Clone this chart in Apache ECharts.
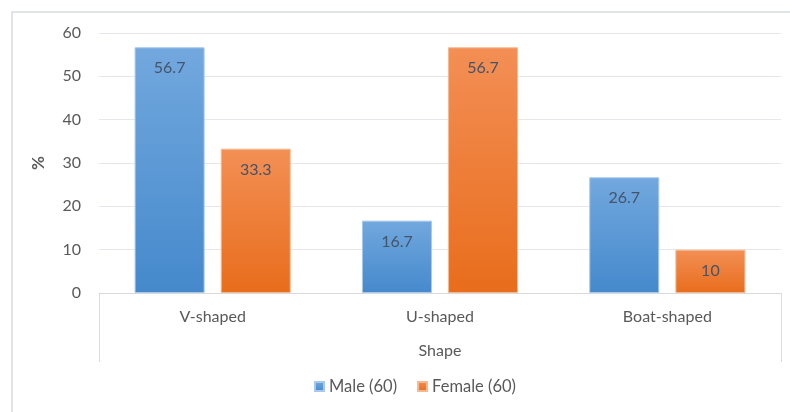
<!DOCTYPE html>
<html>
<head>
<meta charset="utf-8">
<script src="https://cdn.jsdelivr.net/npm/echarts@6/dist/echarts.min.js"></script>
<style>
html,body{margin:0;padding:0;background:#fff;}
#frame{position:absolute;left:11px;top:11px;width:820px;height:450px;border:2px solid #e1e4e8;box-sizing:border-box;}
#chart{position:absolute;left:0;top:0;width:790px;height:412px;}
</style>
</head>
<body>
<div id="frame"></div>
<div id="chart"></div>
<script>
const categories = ['V-shaped', 'U-shaped', 'Boat-shaped'];
const male = [56.7, 16.7, 26.7];
const female = [33.3, 56.7, 10];
const seriesNames = ['Male (60)', 'Female (60)'];
const yTicks = { min: 0, max: 60, interval: 10 };
const axisTitleX = 'Shape';
const axisTitleY = '%';

const FONT = 'Lato';
const chart = echarts.init(document.getElementById('chart'), null, { renderer: 'canvas' });

function grad(top, bottom) {
  return new echarts.graphic.LinearGradient(0, 0, 0, 1, [
    { offset: 0, color: top },
    { offset: 1, color: bottom }
  ]);
}

const labelCfg = {
  show: true,
  position: 'insideTop',
  distance: 13,
  color: '#44546a',
  fontSize: 16,
  fontFamily: FONT
};

chart.setOption({
  animation: false,
  textStyle: { fontFamily: FONT },
  grid: { left: 99, right: 9, top: 33, bottom: 119, containLabel: false },
  legend: {
    bottom: 12,
    left: 309,
    icon: 'rect',
    itemWidth: 9,
    itemHeight: 9,
    itemGap: 20,
    textStyle: { fontSize: 16.5, color: '#595959', fontFamily: FONT },
    data: seriesNames
  },
  xAxis: [
    {
      type: 'category',
      data: categories,
      axisLine: { show: true, lineStyle: { color: '#d9d9d9', width: 1 } },
      axisTick: { show: false },
      axisLabel: { fontSize: 16, color: '#595959', margin: 16, fontFamily: FONT }
    },
    {
      type: 'category',
      data: [axisTitleX],
      position: 'bottom',
      axisLine: { show: false },
      axisTick: { show: true, length: 69, lineStyle: { color: '#dcdcdc' } },
      axisLabel: { fontSize: 16, color: '#595959', margin: 50, fontFamily: FONT },
      splitLine: { show: false }
    }
  ],
  yAxis: {
    type: 'value',
    min: yTicks.min,
    max: yTicks.max,
    interval: yTicks.interval,
    name: axisTitleY,
    nameLocation: 'middle',
    nameGap: 52,
    nameRotate: 90,
    nameTextStyle: { fontSize: 17, fontWeight: 'bold', color: '#595959', fontFamily: FONT },
    axisLine: { show: false },
    axisTick: { show: false },
    axisLabel: { fontSize: 16, color: '#595959', margin: 18, fontFamily: FONT },
    splitLine: { lineStyle: { color: '#e6e6ec', width: 1 } }
  },
  series: [
    {
      name: seriesNames[0],
      type: 'bar',
      xAxisIndex: 0,
      data: male,
      barWidth: '30.8%',
      barGap: '23%',
      itemStyle: { color: grad('#72a8de', '#4589cc'), borderColor: '#a9c8ea', borderWidth: 1 },
      label: labelCfg
    },
    {
      name: seriesNames[1],
      type: 'bar',
      xAxisIndex: 0,
      data: female,
      barWidth: '30.8%',
      barGap: '23%',
      itemStyle: { color: grad('#f38f55', '#e86d1c'), borderColor: '#f5b992', borderWidth: 1 },
      label: labelCfg
    }
  ]
});
</script>
</body>
</html>
